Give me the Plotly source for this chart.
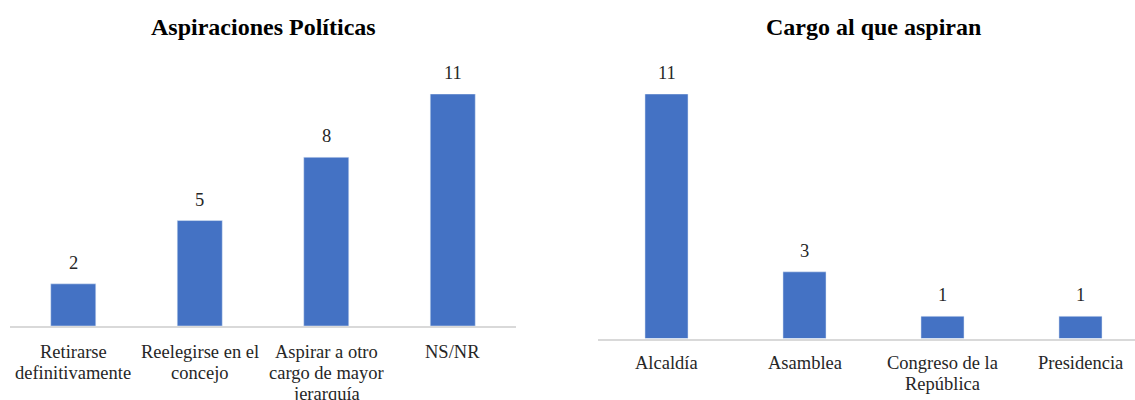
import plotly.graph_objects as go

# Left panel: political aspirations
asp_labels = ["Retirarse<br>definitivamente", "Reelegirse en el<br>concejo",
              "Aspirar a otro<br>cargo de mayor<br>jerarquía", "NS/NR"]
asp_values = [2, 5, 8, 11]

# Right panel: office sought
cargo_labels = ["Alcaldía", "Asamblea", "Congreso de la<br>República", "Presidencia"]
cargo_values = [11, 3, 1, 1]

W, H = 1135, 400
BAR = "#4472C4"
AXIS = "#d9d9d9"
FONT = "Times New Roman"
TXT = 18.5
LINE_H = 21  # spacing between wrapped category-label lines, px

fig = go.Figure()
fig.add_trace(go.Bar(x=asp_labels, y=asp_values, marker_color=BAR, width=0.356,
                     xaxis="x", yaxis="y", hoverinfo="y"))
fig.add_trace(go.Bar(x=cargo_labels, y=cargo_values, marker_color=BAR, width=0.312,
                     xaxis="x2", yaxis="y2", hoverinfo="y"))

annotations = []


def add_panel_text(labels, values, xref, yref, first_line_offset):
    for lab, v in zip(labels, values):
        # value label above each bar
        annotations.append(dict(x=lab, y=v, xref=xref, yref=yref, text=str(v),
                                showarrow=False, yanchor="bottom", yshift=9,
                                font=dict(family=FONT, size=TXT, color="#262626")))
        # category label under the axis, one line at a time for tight leading
        for i, line in enumerate(lab.split("<br>")):
            annotations.append(dict(x=lab, y=0, xref=xref, yref=yref, text=line,
                                    showarrow=False, xanchor="center", yanchor="middle",
                                    yshift=-(first_line_offset + i * LINE_H),
                                    font=dict(family=FONT, size=TXT, color="#262626")))


add_panel_text(asp_labels, asp_values, "x", "y", 26)
add_panel_text(cargo_labels, cargo_values, "x2", "y2", 24)

annotations.append(dict(x=263.5 / W, y=1 - 27 / H, xref="paper", yref="paper",
                        text="<b>Aspiraciones Políticas</b>", showarrow=False,
                        xanchor="center", yanchor="middle",
                        font=dict(family=FONT, size=24, color="#000000")))
annotations.append(dict(x=873 / W, y=1 - 27 / H, xref="paper", yref="paper",
                        text="<b>Cargo al que aspiran</b>", showarrow=False,
                        xanchor="center", yanchor="middle",
                        font=dict(family=FONT, size=24, color="#000000")))

xaxis_style = dict(type="category", showline=True, linecolor=AXIS, linewidth=1.5,
                   showticklabels=False, ticks="", showgrid=False, zeroline=False,
                   automargin=False, fixedrange=True)
yaxis_style = dict(visible=False, showgrid=False, zeroline=False,
                   automargin=False, fixedrange=True)

fig.update_layout(
    width=W, height=H,
    margin=dict(l=0, r=0, t=0, b=0, autoexpand=False),
    paper_bgcolor="white", plot_bgcolor="white",
    showlegend=False,
    font=dict(family=FONT),
    annotations=annotations,
    xaxis=dict(domain=[10 / W, 516 / W], range=[-0.5, 3.5], anchor="y", **xaxis_style),
    yaxis=dict(domain=[(H - 326) / H, (H - 94) / H], range=[0, 11], anchor="x",
               **yaxis_style),
    xaxis2=dict(domain=[597.5 / W, 1.0], range=[-0.5, 3.395], anchor="y2",
                **xaxis_style),
    yaxis2=dict(domain=[(H - 338.5) / H, (H - 94) / H], range=[0, 11], anchor="x2",
                **yaxis_style),
)

fig.write_html("out.html")
